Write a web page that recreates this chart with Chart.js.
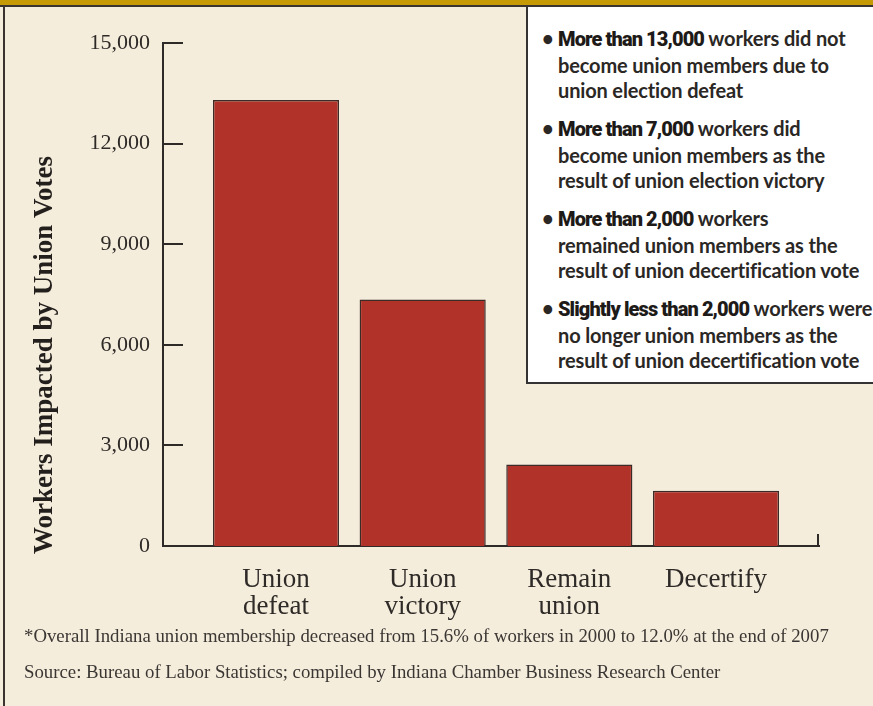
<!DOCTYPE html>
<html>
<head>
<meta charset="utf-8">
<script src="https://cdn.jsdelivr.net/npm/chart.js@4.4.1/dist/chart.umd.min.js"></script>
<style>
  html, body { margin: 0; padding: 0; }
  body {
    width: 873px; height: 706px; overflow: hidden; position: relative;
    background: #f5eddc;
  }
  #topband { position: absolute; left: 0; top: 0; width: 873px; height: 5px; background: #c59a05; border-bottom: 2px solid #3a3430; }
  #leftline { position: absolute; left: 3px; top: 5px; width: 2px; height: 701px; background: #3a3430; }
  #chart { position: absolute; left: 0; top: 0; }
  #box {
    position: absolute; left: 526px; top: 7px; width: 347px; height: 377px;
    background: #fff; border-left: 2px solid #333; border-bottom: 2px solid #333;
    padding: 19px 0 0 0; box-sizing: border-box;
    font-family: "Lato", sans-serif; font-weight: 700; font-size: 20px;
    color: #2a2725; line-height: 25.5px; letter-spacing: -0.15px;
  }
  .item { position: relative; padding-left: 30px; margin-bottom: 12.5px; white-space: nowrap; }
  .item::before { content: "\2022"; position: absolute; left: 14px; top: 0; }
  .item b { font-family: "Roboto", sans-serif; font-weight: 900; letter-spacing: -0.9px; color: #1d1a18; }
  .note {
    position: absolute; left: 24px; font-family: "Liberation Serif", serif;
    font-size: 18.8px; color: #3a3633; white-space: nowrap;
  }
</style>
</head>
<body>
<div id="topband"></div>
<div id="leftline"></div>
<canvas id="chart" width="873" height="706"></canvas>
<div id="box">
  <div class="item"><b>More than 13,000</b> workers did not<br>become union members due to<br>union election defeat</div>
  <div class="item"><b>More than 7,000</b> workers did<br>become union members as the<br>result of union election victory</div>
  <div class="item"><b>More than 2,000</b> workers<br>remained union members as the<br>result of union decertification vote</div>
  <div class="item"><b>Slightly less than 2,000</b> workers were<br>no longer union members as the<br>result of union decertification vote</div>
</div>
<div class="note" style="top: 625px;">*Overall Indiana union membership decreased from 15.6% of workers in 2000 to 12.0% at the end of 2007</div>
<div class="note" style="top: 661px;">Source: Bureau of Labor Statistics; compiled by Indiana Chamber Business Research Center</div>

<script>
const categories = [["Union", "defeat"], ["Union", "victory"], ["Remain", "union"], ["Decertify"]];
const workers = [13300, 7350, 2430, 1650];
const yTicks = [0, 3000, 6000, 9000, 12000, 15000];
const yTitle = "Workers Impacted by Union Votes";

const ink = "#2e2a27";

// inward tick marks, axis end mark and the rotated y title
const axisExtras = {
  id: "axisExtras",
  afterDraw(chart) {
    const c = chart.ctx;
    const y = chart.scales.y;
    const area = chart.chartArea;
    c.save();
    c.strokeStyle = ink;
    c.lineWidth = 2;
    yTicks.forEach((t) => {
      const py = Math.round(y.getPixelForValue(t));
      c.beginPath();
      c.moveTo(area.left, py);
      c.lineTo(area.left + 20, py);
      c.stroke();
    });
    c.beginPath();
    c.moveTo(area.right - 1, area.bottom);
    c.lineTo(area.right - 1, area.bottom - 12);
    c.stroke();

    c.translate(45, 355);
    c.rotate(-Math.PI / 2);
    c.fillStyle = "#231f1c";
    c.font = "bold 27px 'Liberation Serif'";
    c.textAlign = "center";
    c.textBaseline = "middle";
    c.fillText(yTitle, 0, 0);
    c.restore();
  },
};

const ctx = document.getElementById("chart").getContext("2d");
const myChart = new Chart(ctx, {
  type: "bar",
  data: {
    datasets: [
      {
        data: workers.map((v, i) => ({ x: i, y: v })),
        backgroundColor: "#b03228",
        borderColor: "#3b2a26",
        borderWidth: 1.5,
        barPercentage: 0.86,
        categoryPercentage: 1,
      },
    ],
  },
  options: {
    responsive: false,
    animation: false,
    layout: { padding: { left: 0, top: 43, right: 54, bottom: 0 } },
    plugins: { legend: { display: false }, tooltip: { enabled: false } },
    scales: {
      x: {
        type: "linear",
        offset: false,
        min: -0.7705,
        max: 3.7023,
        grid: { display: false, drawTicks: false },
        border: { display: true, color: ink, width: 2 },
        ticks: {
          stepSize: 1,
          includeBounds: false,
          autoSkip: false,
          maxRotation: 0,
          padding: 21,
          color: ink,
          font: { family: "'Liberation Serif'", size: 27, lineHeight: 0.98 },
          callback: (v) => (Number.isInteger(v) && categories[v] ? categories[v] : ""),
        },
        afterFit: (scale) => { scale.height = 160; },
      },
      y: {
        min: 0,
        max: 15000,
        grid: { display: false, drawTicks: false },
        border: { display: true, color: ink, width: 2 },
        ticks: {
          stepSize: 3000,
          padding: 13,
          color: ink,
          font: { family: "'Liberation Serif'", size: 22 },
          callback: (v) => v.toLocaleString("en-US"),
        },
        afterFit: (scale) => { scale.width = 163; },
      },
    },
  },
  plugins: [axisExtras],
});
</script>
</body>
</html>
